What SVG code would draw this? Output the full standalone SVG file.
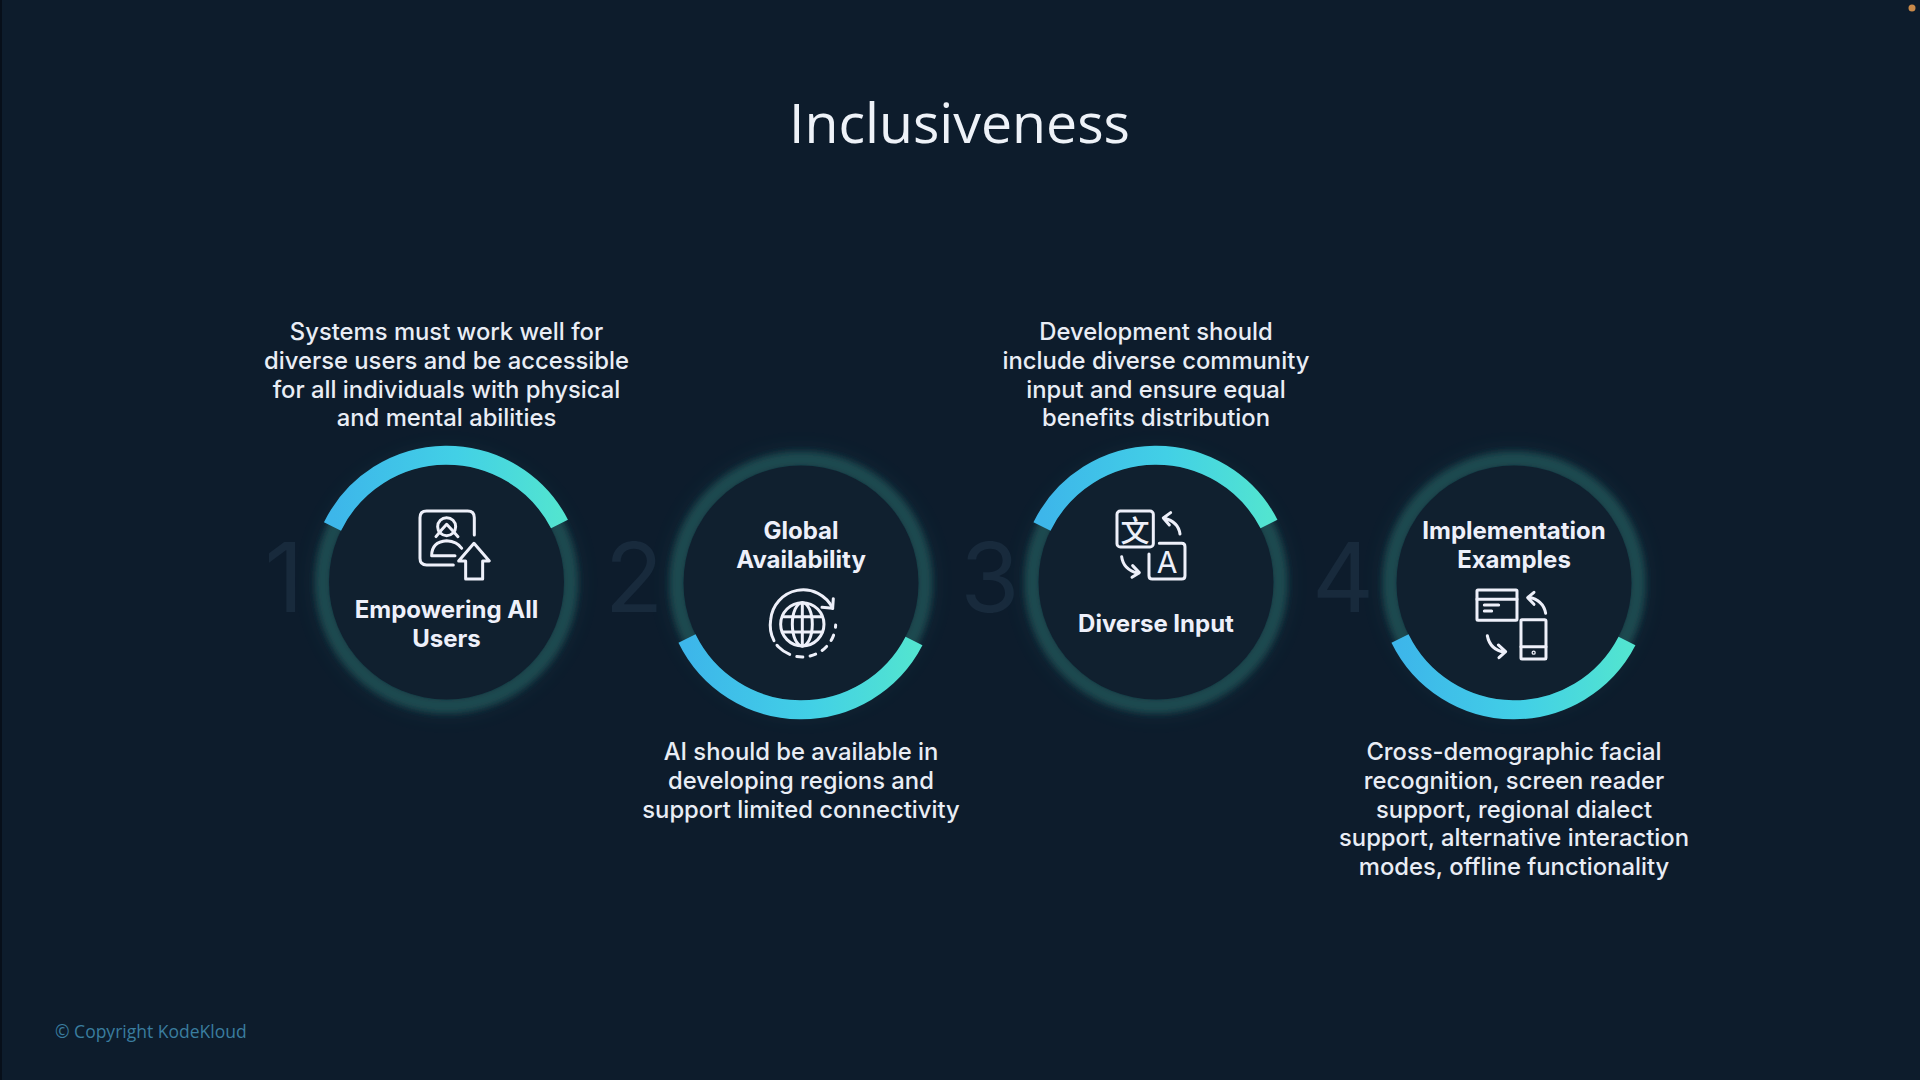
<svg xmlns="http://www.w3.org/2000/svg" width="1920" height="1080" viewBox="0 0 1920 1080">
<defs>
<linearGradient id="arc" x1="0" y1="0" x2="1" y2="0"><stop offset="0" stop-color="#3db6ea"/><stop offset="0.55" stop-color="#42d0e6"/><stop offset="1" stop-color="#52e4d0"/></linearGradient>
<filter id="blurA" x="-30%" y="-30%" width="160%" height="160%"><feGaussianBlur stdDeviation="3"/></filter>
<filter id="blurB" x="-30%" y="-30%" width="160%" height="160%"><feGaussianBlur stdDeviation="9"/></filter>
<g id="ringBase">
<circle r="128" class="halo" filter="url(#blurB)"/>
<circle r="123.500" class="glow" filter="url(#blurA)"/>
<circle r="117.500" class="disc"/>
</g>
</defs>
<style>
.halo{fill:none;stroke:#1f5a60;stroke-width:12;opacity:.22}
.glow{fill:none;stroke:#1e4a4f;stroke-width:16}
.disc{fill:#10202f}
.arc{fill:none;stroke:url(#arc);stroke-width:19}
.num{font-family:Inter,"Liberation Sans",sans-serif;font-size:96px;fill:#182a3c;text-anchor:middle}
.lbl{font-family:Inter,"Liberation Sans",sans-serif;font-size:24px;font-weight:700;fill:#eef0fa;text-anchor:middle}
.desc{font-family:Inter,"Liberation Sans",sans-serif;font-size:23.800px;font-weight:450;fill:#e9edf5;text-anchor:middle}
.ico{fill:none;stroke:#eef0fa;stroke-width:9;stroke-linecap:round;stroke-linejoin:round}
.glyph{fill:#eef0fa;text-anchor:middle}
</style>
<rect width="1920" height="1080" fill="#0d1c2c"/>
<rect width="2" height="1080" fill="#070f1a"/>
<circle cx="1912" cy="8" r="3.500" fill="#c98a4a"/>
<text x="959.500" y="143" text-anchor="middle" font-family="'Open Sans','Noto Sans',sans-serif" font-size="55.400px" fill="#eef2f8">Inclusiveness</text>

<g id="connectors"/>

<g id="node1">
<text x="284" y="612" class="num">1</text>
<use href="#ringBase" x="446.500" y="582"/>
<path class="arc" d="M332.500 526.500A127 127 0 0 1 559.500 524"/>
<g transform="translate(290 430) scale(.3333)" class="ico">
<path d="M553 315V263Q553 243 533 243H410Q390 243 390 263V385Q390 405 410 405H490"/>
<circle cx="470" cy="290" r="27"/>
<path d="M438 320Q452 302 470 283Q488 302 504 320"/>
<path d="M425 377Q425 335 470 332Q502 334 515 355M425 377H495"/>
<path d="M552 340L598 393H578V447H527V393H506Z"/>
</g>
<text x="446.500" y="618" class="lbl">Empowering All</text>
<text x="446.500" y="647" class="lbl">Users</text>
<text x="446.500" y="340" class="desc">Systems must work well for</text>
<text x="446.500" y="368.500" class="desc">diverse users and be accessible</text>
<text x="446.500" y="397.500" class="desc">for all individuals with physical</text>
<text x="446.500" y="426" class="desc">and mental abilities</text>
</g>

<g id="node2">
<text x="634" y="612" class="num">2</text>
<use href="#ringBase" x="801" y="583"/>
<path class="arc" d="M687 638.500A127 127 0 0 0 914 641"/>
<g transform="translate(640 430) scale(.3333)" class="ico">
<circle cx="487" cy="583" r="65"/>
<ellipse cx="487" cy="583" rx="30" ry="65"/>
<path d="M487 518V648M430 560H544M430 606H544"/>
<path d="M402 632A100 100 0 0 1 392 570A98 98 0 0 1 578 535"/>
<path d="M546 532L578 535L580 506"/>
<path d="M587 585A100 100 0 0 1 400 630" stroke-dasharray="7 24 18 22 18 22 18 22 18 22 40 0"/>
</g>
<text x="801" y="539" class="lbl">Global</text>
<text x="801" y="568" class="lbl">Availability</text>
<text x="801" y="760" class="desc">AI should be available in</text>
<text x="801" y="789" class="desc">developing regions and</text>
<text x="801" y="818" class="desc">support limited connectivity</text>
</g>

<g id="node3">
<text x="990" y="612" class="num">3</text>
<use href="#ringBase" x="1156" y="582"/>
<path class="arc" d="M1042 526.500A127 127 0 0 1 1269 524"/>
<g transform="translate(1000 430) scale(.3333)" class="ico">
<rect x="351" y="243" width="109" height="108" rx="10"/>
<path d="M478 340H545Q555 340 555 350V437Q555 447 545 447H457Q447 447 447 437V372"/>
<path d="M540 312Q535 275 492 264M512 248L490 264L508 285"/>
<path d="M365 380Q370 420 415 430M398 407L418 428L396 442"/>
</g>
<text x="1135" y="542" class="glyph" font-family="'Noto Sans CJK SC',sans-serif" font-size="29px" font-weight="500">文</text>
<text x="1167" y="573" class="glyph" font-family="Inter,sans-serif" font-size="30px" font-weight="400">A</text>
<text x="1156" y="632" class="lbl">Diverse Input</text>
<text x="1156" y="340" class="desc">Development should</text>
<text x="1156" y="368.500" class="desc">include diverse community</text>
<text x="1156" y="397.500" class="desc">input and ensure equal</text>
<text x="1156" y="426" class="desc">benefits distribution</text>
</g>

<g id="node4">
<text x="1343" y="612" class="num">4</text>
<use href="#ringBase" x="1514" y="583"/>
<path class="arc" d="M1400 638.500A127 127 0 0 0 1627 641"/>
<g transform="translate(1350 430) scale(.3333)" class="ico">
<rect x="381" y="480" width="120" height="91" rx="3"/>
<path d="M381 508H501M403 525H446M403 543H425"/>
<path d="M587 550Q580 510 535 501M552 487L533 503L552 523"/>
<rect x="513" y="569" width="75" height="118" rx="3"/>
<path d="M513 650H588"/>
<circle cx="551" cy="668" r="2"/>
<path d="M412 617Q420 660 465 667M445 645L467 665L447 683"/>
</g>
<text x="1514" y="539" class="lbl">Implementation</text>
<text x="1514" y="568" class="lbl">Examples</text>
<text x="1514" y="760" class="desc">Cross-demographic facial</text>
<text x="1514" y="789" class="desc">recognition, screen reader</text>
<text x="1514" y="818" class="desc">support, regional dialect</text>
<text x="1514" y="846" class="desc">support, alternative interaction</text>
<text x="1514" y="875" class="desc">modes, offline functionality</text>
</g>

<text x="55" y="1038" font-family="'Open Sans','Noto Sans',sans-serif" font-size="17.500px" fill="#3a7d9f">© Copyright KodeKloud</text>
</svg>
